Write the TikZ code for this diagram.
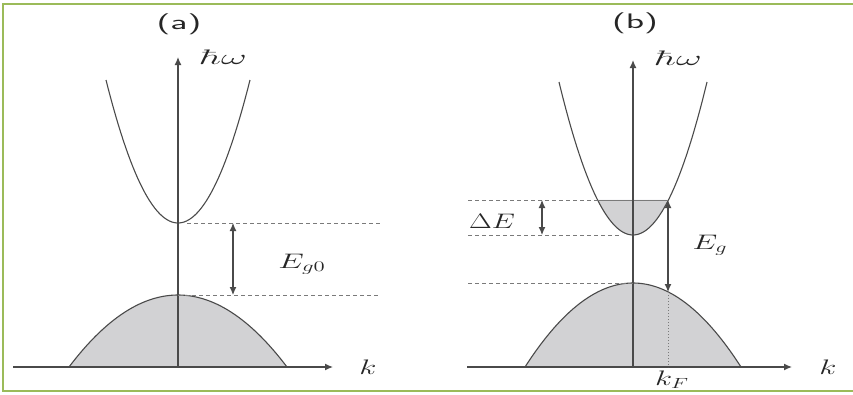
\RequirePackage{fix-cm}
\documentclass[tikz,border=0pt]{standalone}
\usepackage{xcolor}
\definecolor{frameGreen}{HTML}{9BBB59}
\definecolor{bandLine}{HTML}{4A4A4A}
\definecolor{bandFill}{HTML}{D2D2D4}
\definecolor{levelGray}{HTML}{7A7A7A}
\usetikzlibrary{arrows.meta}
\newcommand{\wide}[2][1.6]{\scalebox{#1}[1]{#2}}
\tikzset{
  >={Latex[length=8pt,width=7pt]},
  axis/.style={->,draw=bandLine,line width=1.3pt},
  band/.style={draw=bandLine,line width=1.1pt},
  bandfill/.style={band,fill=bandFill},
  level/.style={draw=levelGray,line width=0.9pt,dash pattern=on 4pt off 3pt},
  gap/.style={<->,draw=bandLine,line width=1.1pt},
  mlabel/.style={font=\fontsize{21}{24}\selectfont,text=black!85,inner sep=0pt},
  plabel/.style={font=\sffamily\fontsize{21}{24}\selectfont,text=black!85,inner sep=0pt},
}

\begin{document}
\begin{tikzpicture}[x=1pt,y=-1pt]
  \useasboundingbox (0,0) rectangle (853,394);
  \draw[frameGreen, line width=2.4pt] (853,4) -- (3,4) -- (3,391) -- (853,391);

  % ---- panel (a): direct gap
  \coordinate (oa) at (178,367);
  \coordinate (cba) at (178,223);
  \coordinate (vba) at (178,295);

  \fill[bandfill] plot[domain=-109:109, samples=60] ({178+\x},{295+72*(\x/109)^2}) -- cycle;
  \draw[band] plot[domain=-72:72, samples=60] ({178+\x},{223-143*(\x/72)^2});

  \draw[axis] (13,367) -- (333,367);
  \draw[axis] (oa) -- (178,57);

  \draw[level] ([xshift=9pt]cba) -- (380,223);
  \draw[level] (vba) -- (380,295);
  \draw[gap] (233,223) -- (233,295);

  \node[plabel] (titlea) at (179,24) {\wide[1.8]{(a)}};
  \node[mlabel, anchor=west] (wa) at (200,57) {\wide[1.9]{$\hbar\omega$}};
  \node[mlabel] (ka) at (368,367) {\wide[1.5]{$k$}};
  \node[mlabel] (ega) at (302,264) {\wide[1.55]{$E_{g0}$}};

  % ---- panel (b): Burstein-Moss shift
  \coordinate (ob) at (633,367);
  \coordinate (cbb) at (633,235);
  \coordinate (vbb) at (633,283);
  \coordinate (fl) at (668,200);
  \coordinate (kf) at (668,292);

  \fill[bandfill] plot[domain=-108:108, samples=60] ({633+\x},{283+84*(\x/108)^2}) -- cycle;
  \fill[bandFill] plot[domain=-35.4:35.4, samples=40] ({633+\x},{235-153*(\x/74)^2}) -- cycle;
  \draw[band] plot[domain=-74:74, samples=60] ({633+\x},{235-153*(\x/74)^2});
  \draw[draw=levelGray, line width=1pt] (597.6,200) -- (fl);

  \draw[axis] (467,367) -- (792,367);
  \draw[axis] (ob) -- (633,60);

  \draw[level] (468,200) -- (597,200);
  \draw[level] (468,235) -- (620,235);
  \draw[level] (468,283) -- (vbb);
  \draw[gap] (542,200) -- (542,235);
  \draw[gap] (fl) -- (kf);
  \draw[draw=levelGray, line width=1pt, dotted] (kf) -- (668,367);

  \node[plabel] (titleb) at (635,23) {\wide[1.8]{(b)}};
  \node[mlabel, anchor=west] (wb) at (655,58) {\wide[1.9]{$\hbar\omega$}};
  \node[mlabel] (kb) at (828,367) {\wide[1.5]{$k$}};
  \node[mlabel] (de) at (492,221) {\wide[1.4]{$\Delta E$}};
  \node[mlabel] (eg) at (710,245) {\wide[1.5]{$E_g$}};
  \node[mlabel] (kfl) at (672,380) {\wide[1.5]{$k_F$}};
\end{tikzpicture}
\end{document}
